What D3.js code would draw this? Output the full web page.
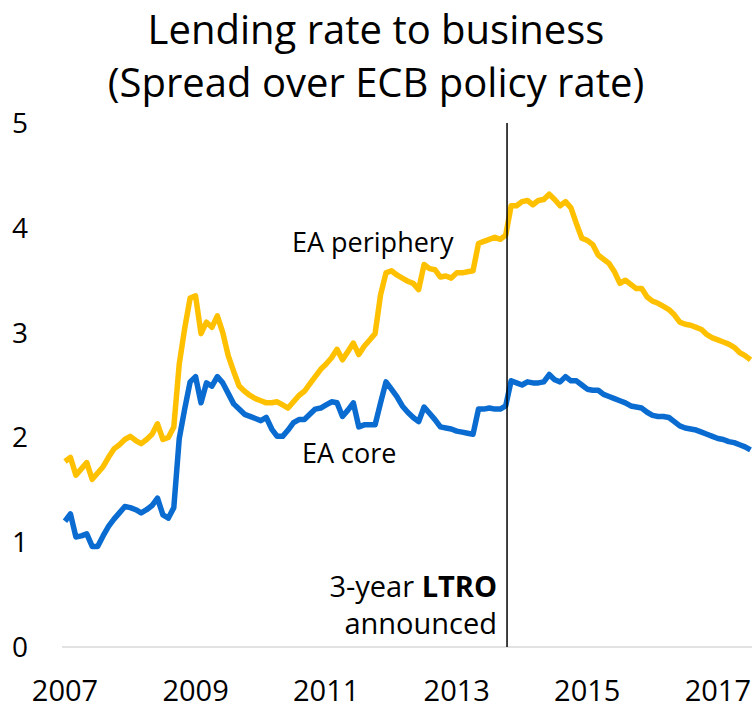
<!DOCTYPE html>
<html>
<head>
<meta charset="utf-8">
<script src="https://cdn.jsdelivr.net/npm/d3@7"></script>
<style>
  body { margin: 0; background: #fff; }
  svg text { font-family: "Open Sans", "Noto Sans", sans-serif; fill: #000; }
</style>
</head>
<body>
<div class="container"></div>
<script>
// monthly observations, Jan 2007 onward (index = month number)
const core = [
  1.20,1.27,1.05,1.06,1.08,0.96,0.96,1.06,1.15,1.22,1.28,1.34,
  1.33,1.31,1.28,1.31,1.35,1.42,1.26,1.23,1.33,1.99,2.27,2.53,
  2.58,2.33,2.52,2.49,2.58,2.52,2.42,2.32,2.27,2.22,2.20,2.18,
  2.16,2.19,2.08,2.01,2.01,2.07,2.14,2.17,2.17,2.22,2.27,2.28,
  2.31,2.34,2.33,2.20,2.26,2.33,2.10,2.12,2.12,2.12,2.33,2.53,
  2.46,2.39,2.30,2.24,2.19,2.15,2.29,2.23,2.17,2.10,2.09,2.08,
  2.06,2.05,2.04,2.03,2.27,2.27,2.28,2.27,2.27,2.30,2.54,2.52,
  2.50,2.53,2.52,2.52,2.53,2.60,2.55,2.53,2.58,2.54,2.54,2.50,
  2.46,2.45,2.45,2.41,2.39,2.37,2.35,2.33,2.30,2.29,2.28,2.24,
  2.21,2.20,2.20,2.19,2.15,2.11,2.09,2.08,2.07,2.05,2.03,2.01,
  1.99,1.98,1.96,1.95,1.93,1.91,1.88
];
const periphery = [
  1.77,1.81,1.64,1.70,1.76,1.60,1.66,1.72,1.81,1.89,1.93,1.98,
  2.01,1.97,1.94,1.98,2.03,2.13,1.98,2.00,2.10,2.70,3.04,3.33,
  3.35,2.99,3.10,3.05,3.16,3.00,2.78,2.63,2.49,2.44,2.40,2.37,
  2.35,2.33,2.33,2.34,2.31,2.28,2.34,2.40,2.44,2.51,2.58,2.65,
  2.70,2.76,2.84,2.74,2.82,2.90,2.79,2.87,2.93,2.99,3.36,3.57,
  3.59,3.55,3.52,3.49,3.47,3.41,3.65,3.61,3.60,3.53,3.54,3.52,
  3.57,3.57,3.58,3.59,3.85,3.87,3.89,3.91,3.89,3.93,4.21,4.21,
  4.25,4.26,4.22,4.26,4.27,4.32,4.27,4.21,4.25,4.19,4.04,3.90,
  3.88,3.84,3.74,3.70,3.66,3.58,3.47,3.50,3.46,3.42,3.42,3.34,
  3.30,3.28,3.25,3.22,3.17,3.10,3.08,3.07,3.05,3.03,2.98,2.95,
  2.93,2.91,2.89,2.86,2.81,2.78,2.74
];
const yearLabels = ['2007','2009','2011','2013','2015','2017'];
const yearMonths = [0, 24, 48, 72, 96, 120];
const yTicks = [0, 1, 2, 3, 4, 5];
const ltroMonth = 81.25;

const W = 752, H = 708;
const svg = d3.select('.container').append('svg')
  .attr('width', W).attr('height', H);

const x = d3.scaleLinear().domain([0, core.length - 1]).range([65, 750.5]);
const y = d3.scaleLinear().domain([0, 5]).range([647, 123]);

// title
svg.append('text').attr('x', 376).attr('y', 44)
  .attr('text-anchor', 'middle').style('font-size', '40px')
  .text('Lending rate to business');
svg.append('text').attr('x', 376).attr('y', 97)
  .attr('text-anchor', 'middle').style('font-size', '40px')
  .text('(Spread over ECB policy rate)');

// y labels
svg.selectAll('.ylab').data(yTicks).enter().append('text')
  .attr('class', 'ylab')
  .attr('x', 20).attr('y', d => y(d) + 10)
  .attr('text-anchor', 'middle').style('font-size', '28px')
  .text(d => d);

// baseline
svg.append('line')
  .attr('x1', 62).attr('x2', W)
  .attr('y1', y(0)).attr('y2', y(0))
  .attr('stroke', '#d9d9d9').attr('stroke-width', 1.5);

// x labels
svg.selectAll('.xlab').data(yearMonths).enter().append('text')
  .attr('class', 'xlab')
  .attr('x', d => x(d)).attr('y', 701)
  .attr('text-anchor', 'middle').style('font-size', '29px')
  .text((d, i) => yearLabels[i]);

// lines
const line = d3.line().x((d, i) => x(i)).y(d => y(d));
svg.append('path').datum(periphery)
  .attr('d', line).attr('fill', 'none')
  .attr('stroke', '#FFC000').attr('stroke-width', 5.5)
  .attr('stroke-linejoin', 'round');
svg.append('path').datum(core)
  .attr('d', line).attr('fill', 'none')
  .attr('stroke', '#0A6CD0').attr('stroke-width', 5.5)
  .attr('stroke-linejoin', 'round');

// LTRO marker
svg.append('line')
  .attr('x1', x(ltroMonth)).attr('x2', x(ltroMonth))
  .attr('y1', y(5)).attr('y2', y(0))
  .attr('stroke', '#000').attr('stroke-width', 1.5);

const ann = svg.append('text').attr('x', x(ltroMonth) - 10).attr('y', 597)
  .attr('text-anchor', 'end').style('font-size', '29px');
ann.append('tspan').text('3-year ');
ann.append('tspan').style('font-weight', 'bold').text('LTRO');
svg.append('text').attr('x', x(ltroMonth) - 10).attr('y', 634)
  .attr('text-anchor', 'end').style('font-size', '29px')
  .text('announced');

// series labels
svg.append('text').attr('x', 292).attr('y', 252)
  .style('font-size', '27px').text('EA periphery');
svg.append('text').attr('x', 302).attr('y', 463)
  .style('font-size', '27px').text('EA core');
</script>
</body>
</html>
